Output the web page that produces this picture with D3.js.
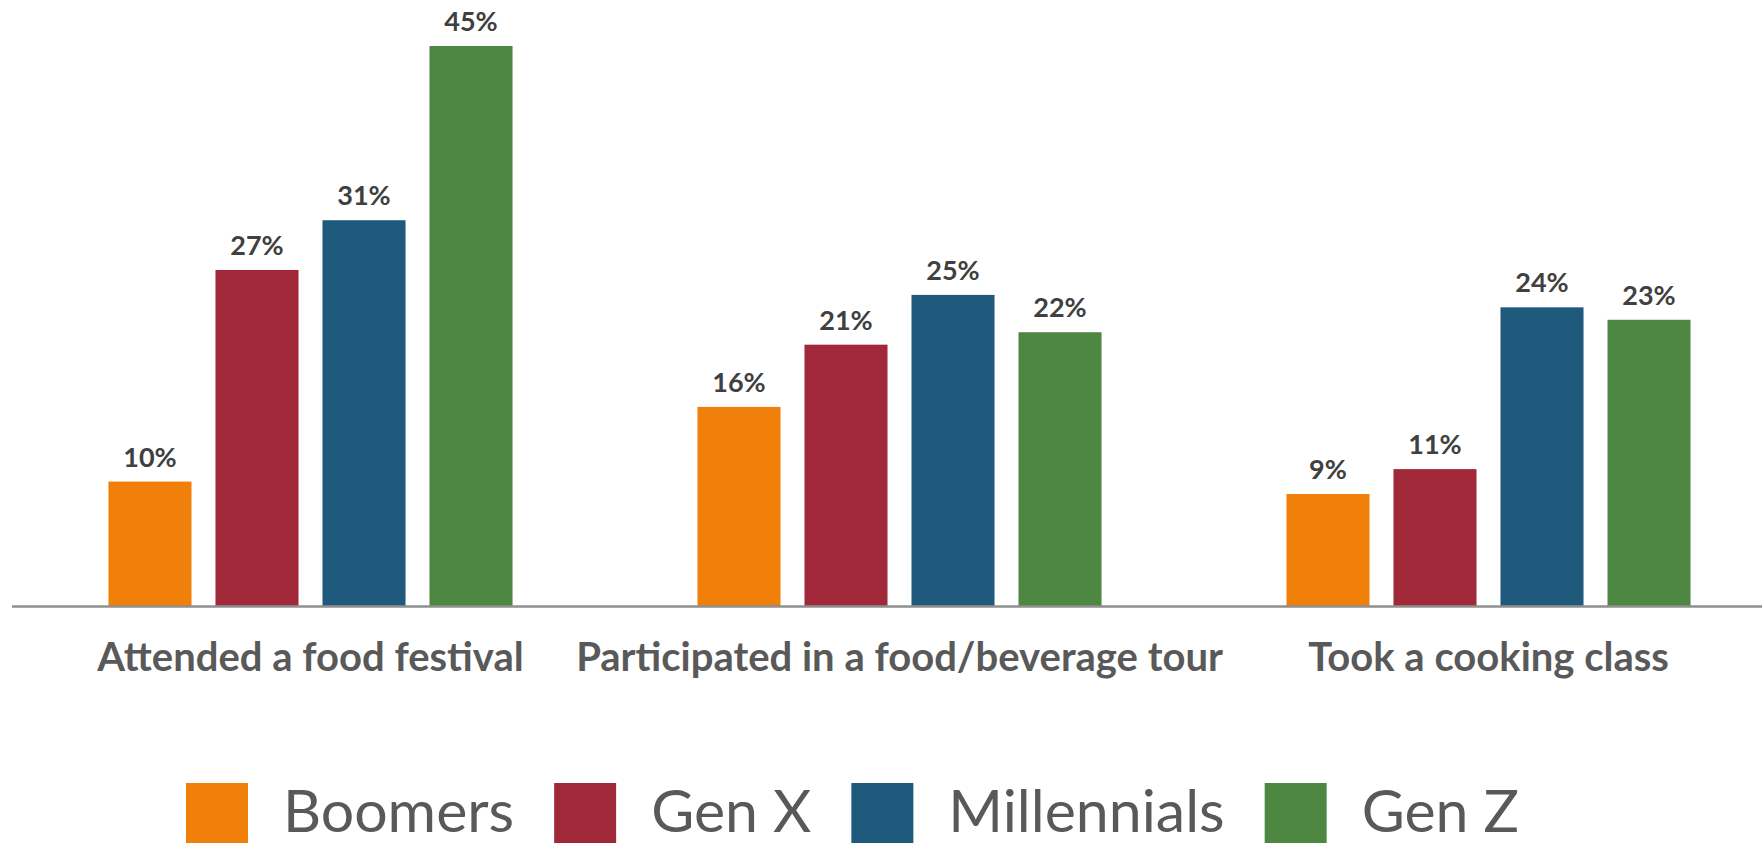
<!DOCTYPE html>
<html>
<head>
<meta charset="utf-8">
<script src="https://cdn.jsdelivr.net/npm/d3@7"></script>
<style>
  html, body { margin: 0; padding: 0; background: #ffffff; }
  svg { display: block; }
</style>
</head>
<body>
<svg id="chart" width="1762" height="843"></svg>
<script>
// Food-related travel activities by generation (% of respondents)
const categories = ["Attended a food festival", "Participated in a food/beverage tour", "Took a cooking class"];
const seriesNames = ["Boomers", "Gen X", "Millennials", "Gen Z"];
const boomers = [10, 16, 9];
const genX = [27, 21, 11];
const millennials = [31, 25, 24];
const genZ = [45, 22, 23];
const seriesColors = ["#f0800a", "#a12838", "#1f5a7d", "#4e8742"];

const seriesValues = [boomers, genX, millennials, genZ];

const svg = d3.select("#chart");
const W = 1762, H = 843;

const baseY = 606;
const x0 = d3.scaleBand().domain(categories).range([16, 1783]).padding(0);
const x1 = d3.scaleBand().domain(seriesNames).range([0, x0.bandwidth()])
  .paddingInner(0.224).paddingOuter(0.864);
const y = d3.scaleLinear().domain([0, 45]).range([baseY, 46]);

const fontFamily = "Lato, 'Open Sans', 'Noto Sans', sans-serif";

// bars
const groups = svg.append("g").selectAll("g")
  .data(categories)
  .join("g")
  .attr("transform", d => `translate(${x0(d)},0)`);

groups.selectAll("rect")
  .data((c, ci) => seriesNames.map((s, si) => ({ s, v: seriesValues[si][ci], color: seriesColors[si] })))
  .join("rect")
  .attr("x", d => x1(d.s))
  .attr("y", d => y(d.v))
  .attr("width", x1.bandwidth())
  .attr("height", d => y(0) - y(d.v))
  .attr("fill", d => d.color);

// value labels
groups.selectAll("text.val")
  .data((c, ci) => seriesNames.map((s, si) => ({ s, v: seriesValues[si][ci] })))
  .join("text")
  .attr("class", "val")
  .attr("x", d => x1(d.s) + x1.bandwidth() / 2)
  .attr("y", d => y(d.v) - 15)
  .attr("text-anchor", "middle")
  .attr("font-family", fontFamily)
  .attr("font-weight", 700)
  .attr("font-size", 27)
  .attr("fill", "#404040")
  .text(d => d.v + "%");

// category axis
const xAxis = d3.axisBottom(x0).tickSize(0).tickPadding(0);
const axisG = svg.append("g")
  .attr("transform", `translate(0,${baseY})`)
  .call(xAxis);
axisG.select(".domain").remove();
axisG.selectAll("text")
  .attr("y", 65)
  .attr("dy", 0)
  .attr("font-family", fontFamily)
  .attr("font-weight", 700)
  .attr("font-size", 40)
  .attr("fill", "#595959");

svg.append("line")
  .attr("x1", 12).attr("x2", W)
  .attr("y1", baseY + 0.5).attr("y2", baseY + 0.5)
  .attr("stroke", "#8f8f8f")
  .attr("stroke-width", 2.5);

// legend
const legend = svg.append("g");
let lx = 186;
seriesNames.forEach((name, i) => {
  legend.append("rect")
    .attr("x", lx).attr("y", 783)
    .attr("width", 62).attr("height", 62)
    .attr("fill", seriesColors[i]);
  const t = legend.append("text")
    .attr("x", lx + 62 + 35)
    .attr("y", 832)
    .attr("font-family", fontFamily)
    .attr("font-size", 59)
    .attr("fill", "#595959")
    .text(name);
  lx += 62 + 35 + t.node().getComputedTextLength() + 40;
});
</script>
</body>
</html>
